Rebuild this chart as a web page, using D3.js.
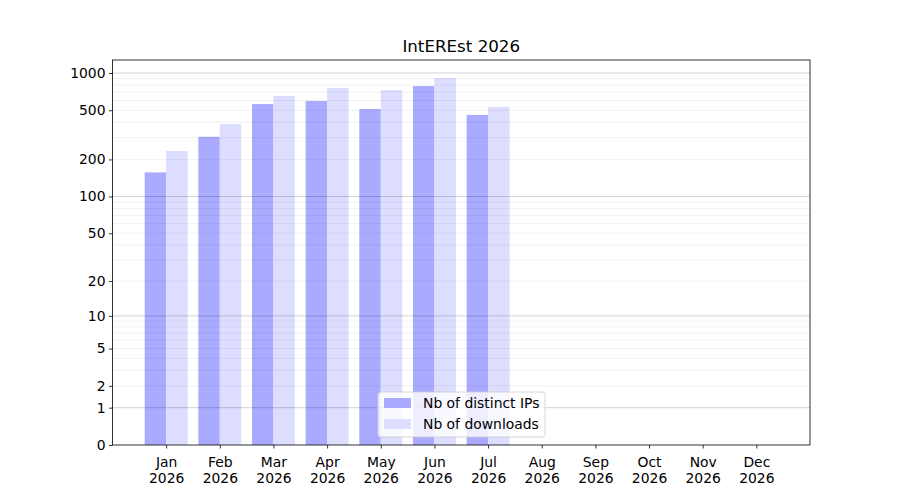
<!DOCTYPE html>
<html>
<head>
<meta charset="utf-8">
<script src="https://cdn.jsdelivr.net/npm/d3@7"></script>
<style>
  * { margin: 0; padding: 0; }
  body { background: #fff; }
  text { font-family: "DejaVu Sans", sans-serif; fill: #000; }
</style>
</head>
<body>
<div id="chart"></div>
<script>
var months = ["Jan", "Feb", "Mar", "Apr", "May", "Jun", "Jul", "Aug", "Sep", "Oct", "Nov", "Dec"];
var year = "2026";
var distinctIPs = [157, 305, 561, 594, 512, 784, 458];
var downloads = [234, 387, 652, 756, 728, 911, 531];
var yTicks = [0, 1, 2, 5, 10, 20, 50, 100, 200, 500, 1000];
var majorGrid = [1, 10, 100, 1000];
var minorGrid = [2, 3, 4, 5, 6, 7, 8, 9, 20, 30, 40, 50, 60, 70, 80, 90, 200, 300, 400, 500, 600, 700, 800, 900];

var W = 900, H = 500;
var margin = { top: 60, right: 90, bottom: 55, left: 112.5 };
var width = W - margin.left - margin.right,
    height = H - margin.top - margin.bottom;

var svg = d3.select("#chart").append("svg")
    .attr("width", W)
    .attr("height", H);

var g = svg.append("g")
    .attr("transform", "translate(" + margin.left + "," + margin.top + ")");

var x = d3.scaleLinear().domain([0, 13]).range([0, width]);
var y = d3.scaleSymlog().constant(1).domain([0, 1273]).range([height, 0]);
var bw = 0.4;

// bars
g.selectAll(".ip").data(distinctIPs).enter().append("rect")
    .attr("x", (d, i) => x(i + 1 - bw))
    .attr("width", x(bw) - x(0))
    .attr("y", d => y(d))
    .attr("height", d => height - y(d))
    .style("fill", "#aaaaff");

g.selectAll(".dl").data(downloads).enter().append("rect")
    .attr("x", (d, i) => x(i + 1))
    .attr("width", x(bw) - x(0))
    .attr("y", d => y(d))
    .attr("height", d => height - y(d))
    .style("fill", "#ddddff");

// grid on top
g.selectAll(".minor").data(minorGrid).enter().append("line")
    .attr("x1", 0).attr("x2", width)
    .attr("y1", d => y(d)).attr("y2", d => y(d))
    .style("stroke", "#000").style("stroke-opacity", 0.07).style("stroke-width", 0.8);

g.selectAll(".major").data(majorGrid).enter().append("line")
    .attr("x1", 0).attr("x2", width)
    .attr("y1", d => y(d)).attr("y2", d => y(d))
    .style("stroke", "#000").style("stroke-opacity", 0.22).style("stroke-width", 0.8);

// axes
var yAxis = g.append("g")
    .call(d3.axisLeft(y).tickValues(yTicks).tickFormat(d3.format("d")).tickSize(3.5).tickPadding(3.5));

var xAxis = g.append("g")
    .attr("transform", "translate(0," + height + ")")
    .call(d3.axisBottom(x).tickValues(d3.range(1, 13)).tickSize(3.5).tickFormat(""));

[yAxis, xAxis].forEach(function (a) {
    a.select(".domain").remove();
    a.selectAll("line").style("stroke", "#000").style("stroke-width", 0.8);
    a.selectAll("text").style("font-size", "13.9px").style("font-family", "DejaVu Sans");
});

xAxis.selectAll(".tick").each(function (d) {
    var t = d3.select(this).append("text")
        .attr("text-anchor", "middle")
        .style("font-size", "13.9px")
        .style("fill", "#000");
    t.append("tspan").attr("x", 0).attr("y", 22).text(months[d - 1]);
    t.append("tspan").attr("x", 0).attr("y", 38).text(year);
});

g.append("rect")
    .attr("width", width).attr("height", height)
    .style("fill", "none").style("stroke", "#000").style("stroke-width", 0.8);

// title
svg.append("text")
    .attr("x", margin.left + width / 2)
    .attr("y", margin.top - 8)
    .attr("text-anchor", "middle")
    .style("font-size", "16.7px")
    .text("IntEREst 2026");

// legend
var legend = svg.append("g").attr("transform", "translate(378,392)");
legend.append("rect")
    .attr("width", 167).attr("height", 45).attr("rx", 3)
    .style("fill", "#fff").style("fill-opacity", 0.8)
    .style("stroke", "#ccc").style("stroke-width", 0.8);

var legendItems = [{ name: "Nb of distinct IPs", color: "#aaaaff" }, { name: "Nb of downloads", color: "#ddddff" }];
legendItems.forEach(function (d, i) {
    legend.append("rect")
        .attr("x", 6).attr("y", 6 + i * 21)
        .attr("width", 27).attr("height", 10)
        .style("fill", d.color);
    legend.append("text")
        .attr("x", 45).attr("y", 16 + i * 21)
        .style("font-size", "13.9px")
        .text(d.name);
});
</script>
</body>
</html>
